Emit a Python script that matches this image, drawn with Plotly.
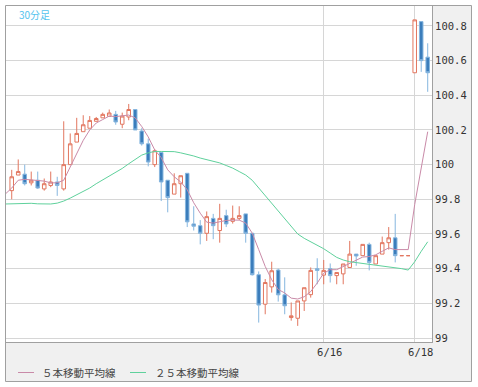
import plotly.graph_objects as go

# ---------------- data ----------------
candle_index = list(range(65))
opens = [99.85, 99.94, 99.945, 99.895, 99.91, 99.86, 99.88, 99.90, 99.86, 100.0,
         100.13, 100.19, 100.21, 100.25, 100.27, 100.279, 100.29, 100.233, 100.275, 100.318,
         100.194, 100.12, 100.0, 100.07, 99.91, 99.83, 99.89, 99.95, 99.658, 99.648,
         99.604, 99.69, 99.62, 99.706, 99.673, 99.69, 99.716, 99.604, 99.365, 99.195,
         99.295, 99.392, 99.249, 99.118, 99.114, 99.214, 99.25, 99.40, 99.363, 99.40,
         99.36, 99.37, 99.407, 99.484, 99.475, 99.54, 99.427, 99.484, 99.55, 99.578,
         99.475, 99.475, 100.53, 100.825, 100.62]
highs = [99.97, 100.03, 100.0, 99.96, 99.96, 99.92, 99.96, 99.93, 100.25, 100.18,
         100.27, 100.285, 100.28, 100.275, 100.30, 100.318, 100.31, 100.30, 100.35, 100.32,
         100.21, 100.15, 100.09, 100.07, 99.91, 99.95, 99.936, 99.95, 99.76, 99.68,
         99.73, 99.716, 99.774, 99.74, 99.764, 99.76, 99.716, 99.604, 99.384, 99.34,
         99.44, 99.40, 99.35, 99.205, 99.214, 99.29, 99.407, 99.46, 99.45, 99.43,
         99.378, 99.427, 99.56, 99.484, 99.54, 99.55, 99.475, 99.585, 99.64, 99.716,
         99.475, 99.475, 100.835, 100.825, 100.70]
lows = [99.80, 99.94, 99.88, 99.88, 99.86, 99.85, 99.87, 99.82, 99.85, 100.0,
        100.13, 100.19, 100.21, 100.25, 100.27, 100.279, 100.23, 100.21, 100.256, 100.20,
        100.11, 99.99, 99.986, 99.79, 99.725, 99.83, 99.81, 99.64, 99.62, 99.54,
        99.56, 99.57, 99.55, 99.64, 99.66, 99.68, 99.55, 99.36, 99.089, 99.137,
        99.262, 99.21, 99.137, 99.10, 99.07, 99.156, 99.233, 99.31, 99.31, 99.32,
        99.31, 99.31, 99.407, 99.417, 99.475, 99.39, 99.427, 99.484, 99.51, 99.436,
        99.475, 99.475, 100.53, 100.535, 100.42]
closes = [99.93, 99.96, 99.89, 99.91, 99.865, 99.89, 99.90, 99.88, 100.0, 100.12,
          100.18, 100.23, 100.255, 100.266, 100.29, 100.298, 100.246, 100.28, 100.318, 100.20,
          100.12, 100.015, 100.08, 99.90, 99.81, 99.89, 99.936, 99.67, 99.645, 99.604,
          99.70, 99.648, 99.69, 99.658, 99.69, 99.706, 99.604, 99.365, 99.19, 99.32,
          99.388, 99.249, 99.186, 99.128, 99.214, 99.29, 99.39, 99.39, 99.39, 99.36,
          99.378, 99.427, 99.484, 99.473, 99.54, 99.436, 99.475, 99.55, 99.578, 99.475,
          99.475, 99.475, 100.835, 100.60, 100.53]

ma_index = list(range(-1, 65))
ma5 = [99.83, 99.865, 99.91, 99.915, 99.912, 99.908, 99.905, 99.895, 99.895, 99.91,
       99.99, 100.065, 100.14, 100.20, 100.24, 100.26, 100.28, 100.277, 100.28, 100.286,
       100.27, 100.22, 100.16, 100.085, 100.04, 99.97, 99.93, 99.90, 99.855, 99.78,
       99.72, 99.668, 99.663, 99.672, 99.678, 99.68, 99.68, 99.663, 99.605, 99.51,
       99.413, 99.336, 99.28, 99.26, 99.23, 99.225, 99.238, 99.268, 99.317, 99.374,
       99.394, 99.394, 99.413, 99.432, 99.45, 99.467, 99.47, 99.48, 99.50, 99.52,
       99.51, 99.51, 99.51, 99.77, 99.97, 100.19]
ma25 = [99.773, 99.775, 99.777, 99.778, 99.777, 99.774, 99.773, 99.773, 99.778, 99.79,
        99.807, 99.826, 99.845, 99.865, 99.89, 99.912, 99.935, 99.955, 99.978, 100.005,
        100.03, 100.055, 100.068, 100.076, 100.076, 100.076, 100.075, 100.068, 100.06, 100.05,
        100.038, 100.03, 100.022, 100.01, 99.995, 99.98, 99.96, 99.94, 99.91, 99.865,
        99.82, 99.78, 99.735, 99.69, 99.645, 99.60, 99.575, 99.555, 99.535, 99.515,
        99.49, 99.465, 99.45, 99.44, 99.435, 99.43, 99.425, 99.42, 99.417, 99.41,
        99.405, 99.40, 99.392, 99.44, 99.50, 99.555]

x_tick_vals = [48, 62]
x_tick_text = ["6/16", "6/18"]
y_tick_vals = [99, 99.2, 99.4, 99.6, 99.8, 100, 100.2, 100.4, 100.6, 100.8]
y_tick_text = ["99", "99.2", "99.4", "99.6", "99.8", "100", "100.2", "100.4", "100.6", "100.8"]

period_label = "30分足"
ma5_name = "５本移動平均線"
ma25_name = "２５本移動平均線"

# ---------------- styling ----------------
RED = "#e2765f"
BLUE_FILL = "#3b7dbb"
BLUE_LINE = "#86b6df"
PINK = "#c98aa8"
GREEN = "#5fd19c"
GRID = "#d6d6d6"
AXIS = "#a0a0a0"

W, H = 478, 387
L, R, T, B = 6, 432, 6, 342


def px(x):
    return (x - L) / (R - L)


def py(y):
    return (B - y) / (B - T)


main = [i for i in candle_index if opens[i] != closes[i]]
doji = [i for i in candle_index if opens[i] == closes[i]]


def pick(arr, ids):
    return [arr[i] for i in ids]


fig = go.Figure()
for ids in (main, doji):
    fig.add_trace(go.Candlestick(
        x=ids, open=pick(opens, ids), high=pick(highs, ids),
        low=pick(lows, ids), close=pick(closes, ids),
        increasing=dict(line=dict(color=RED, width=1), fillcolor="white"),
        decreasing=dict(line=dict(color=BLUE_LINE, width=1), fillcolor=BLUE_FILL),
        showlegend=False, hoverinfo="skip",
    ))

fig.add_trace(go.Scatter(x=ma_index, y=ma5, mode="lines",
                         line=dict(color=PINK, width=1), name=ma5_name,
                         showlegend=False, hoverinfo="skip"))
fig.add_trace(go.Scatter(x=ma_index, y=ma25, mode="lines",
                         line=dict(color=GREEN, width=1), name=ma25_name,
                         showlegend=False, hoverinfo="skip"))

shapes = [
    dict(type="rect", xref="paper", yref="paper", layer="below",
         x0=px(5.5), x1=px(471.5), y0=py(381.5), y1=py(5.5),
         fillcolor="#f0f0f0", line=dict(color=AXIS, width=1)),
    dict(type="rect", xref="paper", yref="paper", layer="below",
         x0=px(6), x1=px(432), y0=py(342), y1=py(6),
         fillcolor="white", line=dict(width=0)),
    dict(type="line", xref="paper", yref="paper",
         x0=px(18), x1=px(34), y0=py(372.5), y1=py(372.5),
         line=dict(color=PINK, width=1)),
    dict(type="line", xref="paper", yref="paper",
         x0=px(130), x1=px(146), y0=py(372.5), y1=py(372.5),
         line=dict(color=GREEN, width=1)),
]

annotations = [
    dict(text=period_label, xref="paper", yref="paper", x=px(16.5), y=py(14),
         xanchor="left", yanchor="middle", showarrow=False,
         font=dict(family="Noto Sans CJK JP", size=10, color="#55c3ee")),
    dict(text=ma5_name, xref="paper", yref="paper", x=px(40), y=py(372.5),
         xanchor="left", yanchor="middle", showarrow=False,
         font=dict(family="Noto Sans CJK JP", size=10.5, color="#444")),
    dict(text=ma25_name, xref="paper", yref="paper", x=px(153), y=py(372.5),
         xanchor="left", yanchor="middle", showarrow=False,
         font=dict(family="Noto Sans CJK JP", size=10.5, color="#444")),
]

tickfont = dict(family="DejaVu Sans Mono", size=10.5, color="#333")

fig.update_layout(
    width=W, height=H,
    margin=dict(l=L, r=W - R, t=T, b=H - B, pad=0),
    paper_bgcolor="white", plot_bgcolor="white",
    showlegend=False,
    boxgap=0.22,
    shapes=shapes, annotations=annotations,
    xaxis=dict(range=[-0.88, 64.66], tickvals=x_tick_vals, ticktext=x_tick_text,
               showgrid=True, gridcolor=GRID, gridwidth=1, zeroline=False,
               showline=True, linecolor=AXIS, linewidth=1, ticks="",
               tickfont=tickfont, ticklabelshift=6,
               rangeslider=dict(visible=False), fixedrange=True),
    yaxis=dict(side="right", range=[98.977, 100.915], tickvals=y_tick_vals,
               ticktext=y_tick_text, showgrid=True, gridcolor=GRID, gridwidth=1,
               zeroline=False, showline=True, linecolor=AXIS, linewidth=1,
               ticks="", tickfont=tickfont, fixedrange=True),
)

fig.write_html("out.html", config={"displayModeBar": False},
               post_script="document.body.style.margin='0';document.body.style.overflow='hidden';")
